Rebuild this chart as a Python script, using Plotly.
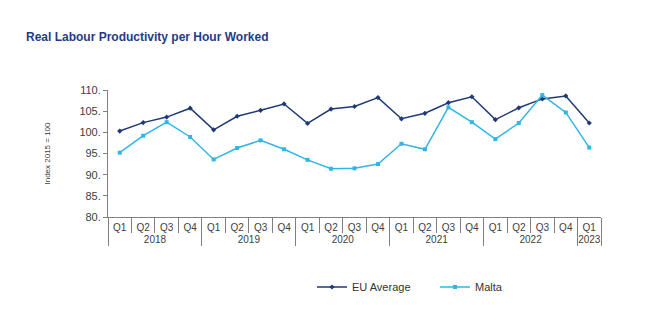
import plotly.graph_objects as go

years = ["2018"]*4 + ["2019"]*4 + ["2020"]*4 + ["2021"]*4 + ["2022"]*4 + ["2023"]
quarters = ["Q1", "Q2", "Q3", "Q4"]*5 + ["Q1"]

eu_average = [100.3, 102.3, 103.6, 105.7,
              100.6, 103.8, 105.2, 106.7,
              102.1, 105.5, 106.1, 108.2,
              103.2, 104.5, 107.0, 108.4,
              103.0, 105.8, 107.9, 108.6,
              102.2]
malta = [95.2, 99.2, 102.4, 98.9,
         93.6, 96.3, 98.1, 96.0,
         93.5, 91.4, 91.5, 92.5,
         97.3, 96.0, 105.9, 102.4,
         98.4, 102.2, 108.8, 104.7,
         96.4]

y_ticks = [80, 85, 90, 95, 100, 105, 110]
y_tick_text = ["80.", "85.", "90.", "95.", "100.", "105.", "110."]

EU_COLOR = "#1f3a78"
MT_COLOR = "#2fb6e3"

fig = go.Figure()
fig.add_trace(go.Scatter(
    x=[years, quarters], y=eu_average, name="EU Average",
    mode="lines+markers",
    line=dict(color=EU_COLOR, width=1.5),
    marker=dict(symbol="diamond", size=4, color=EU_COLOR),
))
fig.add_trace(go.Scatter(
    x=[years, quarters], y=malta, name="Malta",
    mode="lines+markers",
    line=dict(color=MT_COLOR, width=1.5),
    marker=dict(symbol="square", size=4, color=MT_COLOR),
))

fig.update_layout(
    width=650, height=325,
    margin=dict(l=108, r=49, t=90, b=108, autoexpand=False),
    paper_bgcolor="white", plot_bgcolor="white",
    font=dict(family="Liberation Sans, Arial, sans-serif", color="#404040", size=11),
    title=dict(
        text="<b>Real Labour Productivity per Hour Worked</b>",
        x=26/650, xref="container", xanchor="left",
        y=(325-37)/325, yref="container", yanchor="middle",
        font=dict(family="Liberation Sans, Arial, sans-serif", size=12, color="#1f3c88"),
    ),
    showlegend=True,
    legend=dict(
        orientation="h", x=312/650, xref="container", xanchor="left",
        y=(325-287)/325, yref="container", yanchor="middle",
        font=dict(size=11, color="#333333"),
        itemwidth=30, entrywidth=78, entrywidthmode="pixels",
    ),
)

fig.update_xaxes(
    type="multicategory",
    range=[-0.5, 20.5],
    showline=True, linecolor="#808080", linewidth=1,
    ticks="outside", tickson="boundaries", ticklen=15, tickcolor="#808080",
    showdividers=True, dividercolor="#808080", dividerwidth=1,
    ticklabelstandoff=1,
    tickfont=dict(size=10, color="#404040"),
    showgrid=False, zeroline=False,
)
fig.update_yaxes(
    range=[80, 110],
    tickvals=y_ticks, ticktext=y_tick_text,
    showline=True, linecolor="#808080", linewidth=1,
    ticks="outside", ticklen=4, tickcolor="#808080",
    tickfont=dict(size=11, color="#404040"),
    showgrid=False, zeroline=False,
    title=dict(text="Index 2015 = 100", font=dict(size=8, color="#404040"), standoff=27),
)

fig.write_html("out.html")
